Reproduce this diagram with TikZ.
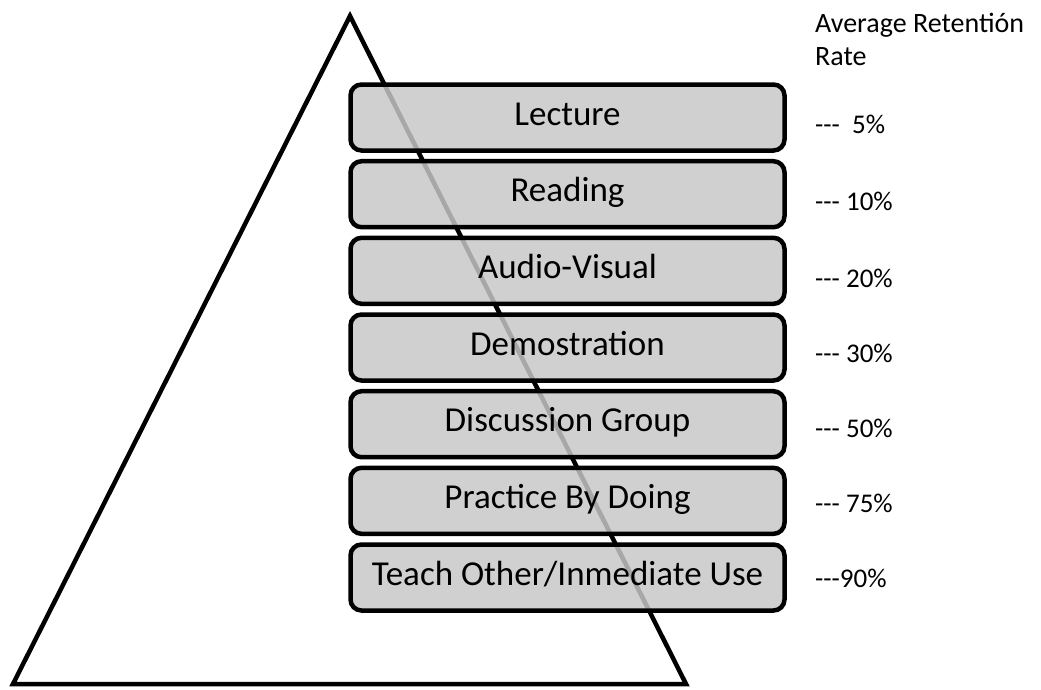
\documentclass[tikz,border=0pt]{standalone}
\usepackage{fontspec}
\setmainfont{Carlito}
% three separate hyphens, kept apart so they do not become a dash ligature
\newcommand\tripdash{-\kern0pt-\kern0pt-}
\begin{document}
\begin{tikzpicture}[x=1pt,y=-1pt,
  layerbox/.style={draw=black, line width=4.5pt, rounded corners=11pt,
    fill=black!22, fill opacity=0.84, text opacity=1,
    minimum width=434pt, minimum height=66pt, inner sep=0pt,
    text height=25pt, text depth=10pt, font=\fontsize{35}{42}\selectfont},
  rate/.style={anchor=base west, inner sep=0pt, font=\fontsize{27}{32}\selectfont},
  header/.style={anchor=base west, inner sep=0pt, font=\fontsize{28}{33}\selectfont}]
\useasboundingbox (0,0) rectangle (1041,689);

% the pyramid outline
\coordinate (apex) at (350,16);
\coordinate (bl) at (13,684);
\coordinate (br) at (686,684);
\draw[line width=4.5pt, line join=miter] (apex) -- (br) -- (bl) -- cycle;

% learning activities, stacked
\node[layerbox] (l1) at (567.5,117.5) {Lecture};
\node[layerbox] (l2) at (567.5,194.2) {Reading};
\node[layerbox] (l3) at (567.5,270.8) {Audio-Visual};
\node[layerbox] (l4) at (567.5,347.5) {Demostration};
\node[layerbox] (l5) at (567.5,424.2) {Discussion Group};
\node[layerbox] (l6) at (567.5,500.8) {Practice By Doing};
\node[layerbox] (l7) at (567.5,577.5) {Teach Other/Inmediate Use};

% retention column
\node[header] (h1) at (815,32) {Average Retentión};
\node[header] (h2) at (815,65) {Rate};
\node[rate] (r1) at (815,133) {\tripdash\ \ 5\%};
\node[rate] (r2) at (815,210) {\tripdash\ 10\%};
\node[rate] (r3) at (815,287) {\tripdash\ 20\%};
\node[rate] (r4) at (815,362) {\tripdash\ 30\%};
\node[rate] (r5) at (815,437) {\tripdash\ 50\%};
\node[rate] (r6) at (815,512) {\tripdash\ 75\%};
\node[rate] (r7) at (815,587) {\tripdash 90\%};
\end{tikzpicture}
\end{document}
